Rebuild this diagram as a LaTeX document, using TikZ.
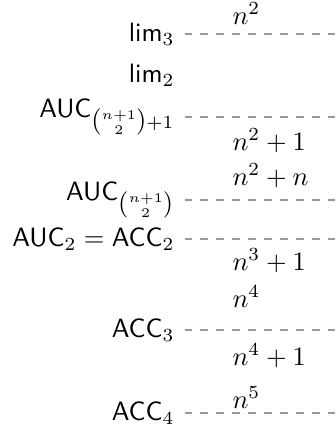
\documentclass[tikz,border=0pt]{standalone}
\usepackage{amsmath}
\begin{document}
\begin{tikzpicture}[x=0.3774pt,y=-0.3774pt,
  lvl/.style={anchor=east,inner sep=0pt,font=\sffamily},
  val/.style={anchor=base west,inner sep=0pt},
  cut/.style={black!40,dashed,line width=0.4pt}]
\useasboundingbox (0,0) rectangle (335,432);
% level labels
\node[lvl] (l3) at (175,34) {lim$_3$};
\node[lvl] (l2) at (175,75) {lim$_2$};
\node[lvl] (a1) at (175,117) {AUC$_{\binom{n+1}{2}+1}$};
\node[lvl] (a0) at (175,200) {AUC$_{\binom{n+1}{2}}$};
\node[lvl] (a2) at (175,239) {AUC$_2=\text{ACC}_2$};
\node[lvl] (c3) at (175,330) {ACC$_3$};
\node[lvl] (c4) at (175,413) {ACC$_4$};
% right ends
\coordinate (e3) at (335,34);
\coordinate (e1) at (335,117);
\coordinate (e0) at (335,200);
\coordinate (e2) at (335,239);
\coordinate (f3) at (335,330);
\coordinate (f4) at (335,413);
\draw[cut] ([xshift=3.6pt]l3.east) -- (e3);
\draw[cut] ([xshift=3.6pt]a1.east) -- (e1);
\draw[cut] ([xshift=3.6pt]a0.east) -- (e0);
\draw[cut] ([xshift=3.6pt]a2.east) -- (e2);
\draw[cut] ([xshift=3.6pt]c3.east) -- (f3);
\draw[cut] ([xshift=3.6pt]c4.east) -- (f4);
% values
\node[val] (v1) at (232,24) {$n^2$};
\node[val] (v2) at (232,150) {$n^2+1$};
\node[val] (v3) at (232,185) {$n^2+n$};
\node[val] (v4) at (232,270) {$n^3+1$};
\node[val] (v5) at (232,307) {$n^4$};
\node[val] (v6) at (232,365) {$n^4+1$};
\node[val] (v7) at (232,408) {$n^5$};
\end{tikzpicture}
\end{document}
